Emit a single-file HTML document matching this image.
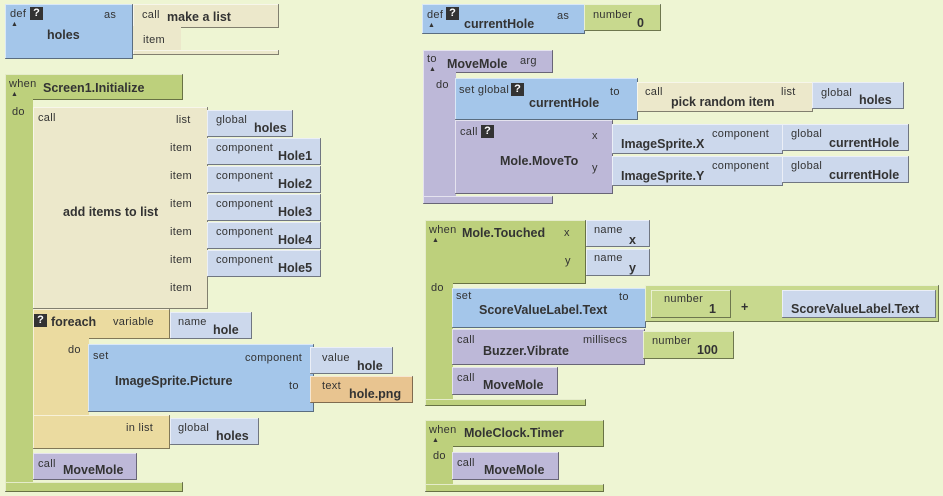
<!DOCTYPE html>
<html><head><meta charset="utf-8"><style>
body{margin:0;width:943px;height:496px;background:#eef5d3;position:relative;overflow:hidden;font-family:"Liberation Sans",sans-serif;color:#333}
.b{position:absolute;box-sizing:border-box;box-shadow:inset -1px -1px 0 rgba(0,0,0,.45),inset 1px 1px 0 rgba(255,255,255,.6)}
.blue{background:#a4c6ea}.bg{background:#ece8cb}.lb{background:#ccd8ec}.gr{background:#bdd07c}.pu{background:#bdb8d8}.fe{background:#ebdba0}.or{background:#e8c490}.nm{background:#c8d98e}
.t{position:absolute;font-size:11px;white-space:nowrap;letter-spacing:.3px}
.k{position:absolute;font-size:12.5px;font-weight:bold;white-space:nowrap}
.q{position:absolute;width:13px;height:13px;background:#333;color:#fff;font-size:11px;font-weight:bold;text-align:center;line-height:13px}
.tri{position:absolute;font-size:7px}
</style></head><body>
<!-- def holes -->
<div class="b blue" style="left:5px;top:4px;width:128px;height:55px"></div>
<span class="t" style="left:10px;top:8px">def</span><div class="q" style="left:30px;top:7px">?</div><span class="tri" style="left:11px;top:21px">▲</span>
<span class="k" style="left:47px;top:28px">holes</span><span class="t" style="left:104px;top:9px">as</span>
<div class="b bg" style="left:133px;top:4px;width:146px;height:24px"></div>
<div class="b bg" style="left:133px;top:26px;width:48px;height:28px;box-shadow:none"></div>
<div class="b bg" style="left:133px;top:50px;width:146px;height:5px"></div>
<span class="t" style="left:142px;top:9px">call</span><span class="k" style="left:167px;top:10px">make a list</span><span class="t" style="left:143px;top:34px">item</span>

<!-- Screen1.Initialize -->
<div class="b gr" style="left:5px;top:74px;width:178px;height:26px"></div>
<div class="b gr" style="left:5px;top:98px;width:28px;height:394px;box-shadow:inset 1px 0 0 rgba(255,255,255,.6)"></div>
<div class="b gr" style="left:5px;top:482px;width:178px;height:10px"></div>
<span class="t" style="left:9px;top:78px">when</span><span class="tri" style="left:11px;top:91px">▲</span><span class="k" style="left:43px;top:81px">Screen1.Initialize</span><span class="t" style="left:12px;top:106px">do</span>
<!-- add items -->
<div class="b bg" style="left:33px;top:107px;width:175px;height:202px"></div>
<span class="t" style="left:38px;top:112px">call</span><span class="k" style="left:63px;top:205px">add items to list</span>
<span class="t" style="left:176px;top:114px">list</span>
<div class="b lb" style="left:207px;top:110px;width:86px;height:27px"></div><span class="t" style="left:216px;top:114px">global</span><span class="k" style="left:254px;top:121px">holes</span>
<span class="t" style="left:170px;top:142px">item</span><span class="t" style="left:170px;top:170px">item</span><span class="t" style="left:170px;top:198px">item</span><span class="t" style="left:170px;top:226px">item</span><span class="t" style="left:170px;top:254px">item</span><span class="t" style="left:170px;top:282px">item</span>
<div class="b lb" style="left:207px;top:138px;width:114px;height:27px"></div><span class="t" style="left:216px;top:142px">component</span><span class="k" style="left:278px;top:149px">Hole1</span>
<div class="b lb" style="left:207px;top:166px;width:114px;height:27px"></div><span class="t" style="left:216px;top:170px">component</span><span class="k" style="left:278px;top:177px">Hole2</span>
<div class="b lb" style="left:207px;top:194px;width:114px;height:27px"></div><span class="t" style="left:216px;top:198px">component</span><span class="k" style="left:278px;top:205px">Hole3</span>
<div class="b lb" style="left:207px;top:222px;width:114px;height:27px"></div><span class="t" style="left:216px;top:226px">component</span><span class="k" style="left:278px;top:233px">Hole4</span>
<div class="b lb" style="left:207px;top:250px;width:114px;height:27px"></div><span class="t" style="left:216px;top:254px">component</span><span class="k" style="left:278px;top:261px">Hole5</span>
<!-- foreach -->
<div class="b fe" style="left:33px;top:309px;width:137px;height:30px"></div>
<div class="b fe" style="left:33px;top:337px;width:56px;height:112px;box-shadow:inset 1px 0 0 rgba(255,255,255,.6)"></div>
<div class="b fe" style="left:33px;top:415px;width:137px;height:34px"></div>
<div class="q" style="left:34px;top:314px">?</div><span class="k" style="left:51px;top:315px">foreach</span><span class="t" style="left:113px;top:316px">variable</span>
<div class="b lb" style="left:170px;top:312px;width:82px;height:27px"></div><span class="t" style="left:178px;top:316px">name</span><span class="k" style="left:213px;top:323px">hole</span>
<span class="t" style="left:68px;top:344px">do</span>
<div class="b blue" style="left:88px;top:344px;width:226px;height:68px"></div>
<span class="t" style="left:93px;top:350px">set</span><span class="k" style="left:115px;top:374px">ImageSprite.Picture</span><span class="t" style="left:245px;top:352px">component</span><span class="t" style="left:289px;top:380px">to</span>
<div class="b lb" style="left:310px;top:347px;width:83px;height:27px"></div><span class="t" style="left:322px;top:352px">value</span><span class="k" style="left:357px;top:359px">hole</span>
<div class="b or" style="left:310px;top:376px;width:103px;height:27px"></div><span class="t" style="left:322px;top:380px">text</span><span class="k" style="left:349px;top:387px">hole.png</span>
<span class="t" style="left:126px;top:422px">in list</span>
<div class="b lb" style="left:170px;top:418px;width:89px;height:27px"></div><span class="t" style="left:178px;top:422px">global</span><span class="k" style="left:216px;top:429px">holes</span>
<div class="b pu" style="left:33px;top:453px;width:104px;height:27px"></div><span class="t" style="left:38px;top:458px">call</span><span class="k" style="left:63px;top:463px">MoveMole</span>

<!-- def currentHole -->
<div class="b blue" style="left:422px;top:4px;width:163px;height:30px"></div>
<span class="t" style="left:427px;top:9px">def</span><div class="q" style="left:446px;top:7px">?</div><span class="tri" style="left:428px;top:22px">▲</span><span class="k" style="left:464px;top:17px">currentHole</span><span class="t" style="left:557px;top:10px">as</span>
<div class="b nm" style="left:584px;top:4px;width:77px;height:27px"></div><span class="t" style="left:593px;top:9px">number</span><span class="k" style="left:637px;top:16px">0</span>

<!-- MoveMole -->
<div class="b pu" style="left:423px;top:50px;width:130px;height:23px"></div>
<div class="b pu" style="left:423px;top:71px;width:33px;height:133px;box-shadow:inset 1px 0 0 rgba(255,255,255,.6)"></div>
<div class="b pu" style="left:423px;top:196px;width:130px;height:8px"></div>
<span class="t" style="left:427px;top:53px">to</span><span class="tri" style="left:429px;top:66px">▲</span><span class="k" style="left:447px;top:57px">MoveMole</span><span class="t" style="left:520px;top:55px">arg</span><span class="t" style="left:436px;top:79px">do</span>
<div class="b blue" style="left:455px;top:78px;width:183px;height:42px"></div>
<span class="t" style="left:459px;top:84px">set global</span><div class="q" style="left:511px;top:83px">?</div><span class="k" style="left:529px;top:96px">currentHole</span><span class="t" style="left:610px;top:86px">to</span>
<div class="b bg" style="left:637px;top:82px;width:176px;height:30px"></div><span class="t" style="left:645px;top:86px">call</span><span class="k" style="left:671px;top:95px">pick random item</span><span class="t" style="left:781px;top:86px">list</span>
<div class="b lb" style="left:812px;top:82px;width:92px;height:27px"></div><span class="t" style="left:821px;top:87px">global</span><span class="k" style="left:859px;top:93px">holes</span>
<div class="b pu" style="left:455px;top:120px;width:158px;height:74px"></div>
<span class="t" style="left:460px;top:126px">call</span><div class="q" style="left:481px;top:125px">?</div><span class="k" style="left:500px;top:154px">Mole.MoveTo</span><span class="t" style="left:592px;top:130px">x</span><span class="t" style="left:592px;top:162px">y</span>
<div class="b lb" style="left:612px;top:124px;width:171px;height:30px"></div><span class="t" style="left:712px;top:128px">component</span><span class="k" style="left:621px;top:137px">ImageSprite.X</span>
<div class="b lb" style="left:782px;top:124px;width:127px;height:27px"></div><span class="t" style="left:791px;top:128px">global</span><span class="k" style="left:829px;top:136px">currentHole</span>
<div class="b lb" style="left:612px;top:156px;width:171px;height:30px"></div><span class="t" style="left:712px;top:160px">component</span><span class="k" style="left:621px;top:169px">ImageSprite.Y</span>
<div class="b lb" style="left:782px;top:156px;width:127px;height:27px"></div><span class="t" style="left:791px;top:160px">global</span><span class="k" style="left:829px;top:168px">currentHole</span>

<!-- Mole.Touched -->
<div class="b gr" style="left:425px;top:220px;width:161px;height:64px"></div>
<div class="b gr" style="left:425px;top:282px;width:28px;height:124px;box-shadow:inset 1px 0 0 rgba(255,255,255,.6)"></div>
<div class="b gr" style="left:425px;top:399px;width:161px;height:7px"></div>
<span class="t" style="left:429px;top:224px">when</span><span class="tri" style="left:432px;top:237px">▲</span><span class="k" style="left:462px;top:226px">Mole.Touched</span><span class="t" style="left:564px;top:227px">x</span><span class="t" style="left:565px;top:255px">y</span>
<div class="b lb" style="left:586px;top:220px;width:64px;height:27px"></div><span class="t" style="left:594px;top:224px">name</span><span class="k" style="left:629px;top:233px">x</span>
<div class="b lb" style="left:586px;top:249px;width:64px;height:27px"></div><span class="t" style="left:594px;top:252px">name</span><span class="k" style="left:629px;top:261px">y</span>
<span class="t" style="left:431px;top:282px">do</span>
<div class="b blue" style="left:452px;top:288px;width:194px;height:40px"></div><span class="t" style="left:456px;top:290px">set</span><span class="k" style="left:479px;top:303px">ScoreValueLabel.Text</span><span class="t" style="left:619px;top:291px">to</span>
<div class="b nm" style="left:645px;top:285px;width:294px;height:37px"></div>
<div class="b nm" style="left:651px;top:290px;width:80px;height:28px"></div><span class="t" style="left:664px;top:293px">number</span><span class="k" style="left:709px;top:302px">1</span>
<span class="k" style="left:741px;top:300px">+</span>
<div class="b lb" style="left:782px;top:290px;width:154px;height:28px"></div><span class="k" style="left:791px;top:302px">ScoreValueLabel.Text</span>
<div class="b pu" style="left:452px;top:329px;width:193px;height:36px"></div><span class="t" style="left:457px;top:334px">call</span><span class="k" style="left:483px;top:344px">Buzzer.Vibrate</span><span class="t" style="left:583px;top:334px">millisecs</span>
<div class="b nm" style="left:643px;top:331px;width:91px;height:28px"></div><span class="t" style="left:652px;top:335px">number</span><span class="k" style="left:697px;top:343px">100</span>
<div class="b pu" style="left:452px;top:367px;width:106px;height:28px"></div><span class="t" style="left:457px;top:372px">call</span><span class="k" style="left:483px;top:378px">MoveMole</span>

<!-- MoleClock.Timer -->
<div class="b gr" style="left:425px;top:420px;width:179px;height:27px"></div>
<div class="b gr" style="left:425px;top:445px;width:28px;height:47px;box-shadow:inset 1px 0 0 rgba(255,255,255,.6)"></div>
<div class="b gr" style="left:425px;top:484px;width:179px;height:8px"></div>
<span class="t" style="left:429px;top:424px">when</span><span class="tri" style="left:432px;top:437px">▲</span><span class="k" style="left:464px;top:426px">MoleClock.Timer</span><span class="t" style="left:433px;top:450px">do</span>
<div class="b pu" style="left:452px;top:452px;width:107px;height:28px"></div><span class="t" style="left:457px;top:457px">call</span><span class="k" style="left:484px;top:463px">MoveMole</span>
</body></html>
